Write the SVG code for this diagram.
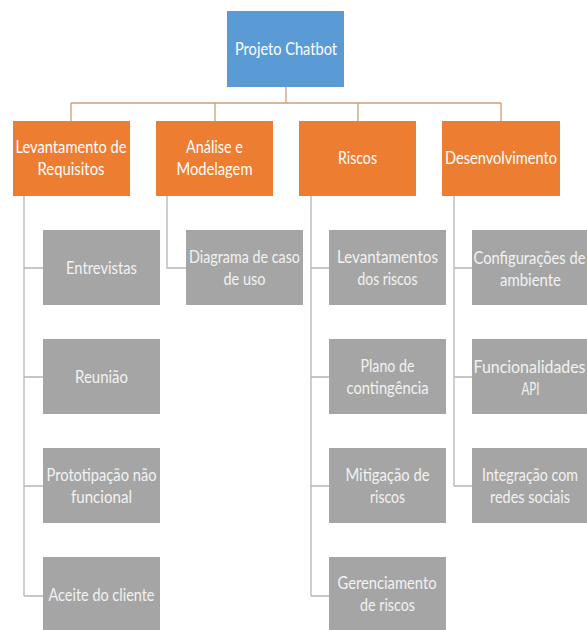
<svg xmlns="http://www.w3.org/2000/svg" width="587" height="630" viewBox="0 0 587 630">
<style>
  .bg{fill:#ffffff}
  .root{fill:#5B9BD5}
  .l1{fill:#ED7D31}
  .l2{fill:#A5A5A5}
  .t{font-family:Lato,"Liberation Sans",sans-serif;font-size:17.5px;text-anchor:middle;fill:#ffffff}
  .t2{font-family:Lato,"Liberation Sans",sans-serif;font-size:17.5px;text-anchor:middle;fill:#F2F2F2}
  .ctop{fill:none;stroke:#CF9E74;stroke-width:1.3}
  .clow{fill:none;stroke:#B5B5B5;stroke-width:1.3}
</style>
<rect class="bg" x="0" y="0" width="587" height="630"/>
<g id="connectors">
  <path class="ctop" d="M286 87 V103 M71 103 H501 M71 103 V121 M215 103 V121 M358 103 V121 M501 103 V121"/>
  <path class="clow" d="M24 196 V596 M24 268 H43 M24 377 H43 M24 486 H43 M24 596 H43"/>
  <path class="clow" d="M167 196 V268 H186"/>
  <path class="clow" d="M311 196 V596 M311 268 H329 M311 377 H329 M311 486 H329 M311 596 H329"/>
  <path class="clow" d="M454 196 V486 M454 268 H472 M454 377 H472 M454 486 H472"/>
</g>
<g id="projeto-chatbot">
  <rect class="root" x="227" y="11" width="117" height="76"/>
  <text class="t" x="286" y="55" textLength="102" lengthAdjust="spacingAndGlyphs">Projeto Chatbot</text>
</g>
<g id="levantamento-requisitos">
  <rect class="l1" x="13" y="121" width="117" height="75"/>
  <text class="t" x="71" y="153" textLength="111" lengthAdjust="spacingAndGlyphs">Levantamento de</text>
  <text class="t" x="71" y="175" textLength="67" lengthAdjust="spacingAndGlyphs">Requisitos</text>
</g>
<g id="analise-modelagem">
  <rect class="l1" x="156" y="121" width="117" height="75"/>
  <text class="t" x="214.5" y="153" textLength="57" lengthAdjust="spacingAndGlyphs">Análise e</text>
  <text class="t" x="214.5" y="175" textLength="76" lengthAdjust="spacingAndGlyphs">Modelagem</text>
</g>
<g id="riscos">
  <rect class="l1" x="299" y="121" width="117" height="75"/>
  <text class="t" x="357.5" y="164" textLength="39" lengthAdjust="spacingAndGlyphs">Riscos</text>
</g>
<g id="desenvolvimento">
  <rect class="l1" x="442" y="121" width="118" height="75"/>
  <text class="t" x="501" y="164" textLength="112" lengthAdjust="spacingAndGlyphs">Desenvolvimento</text>
</g>
<g id="entrevistas">
  <rect class="l2" x="43" y="230" width="117" height="75"/>
  <text class="t2" x="101.5" y="274" textLength="71" lengthAdjust="spacingAndGlyphs">Entrevistas</text>
</g>
<g id="reuniao">
  <rect class="l2" x="43" y="339" width="117" height="75"/>
  <text class="t2" x="101.5" y="383" textLength="53" lengthAdjust="spacingAndGlyphs">Reunião</text>
</g>
<g id="prototipacao">
  <rect class="l2" x="43" y="448" width="117" height="75"/>
  <text class="t2" x="101.5" y="481" textLength="110" lengthAdjust="spacingAndGlyphs">Prototipação não</text>
  <text class="t2" x="101.5" y="503" textLength="61" lengthAdjust="spacingAndGlyphs">funcional</text>
</g>
<g id="aceite-cliente">
  <rect class="l2" x="43" y="557" width="117" height="76"/>
  <text class="t2" x="101.5" y="601" textLength="106" lengthAdjust="spacingAndGlyphs">Aceite do cliente</text>
</g>
<g id="diagrama-caso-uso">
  <rect class="l2" x="186" y="230" width="117" height="75"/>
  <text class="t2" x="244.5" y="263" textLength="111" lengthAdjust="spacingAndGlyphs">Diagrama de caso</text>
  <text class="t2" x="244.5" y="285" textLength="42" lengthAdjust="spacingAndGlyphs">de uso</text>
</g>
<g id="levantamentos-riscos">
  <rect class="l2" x="329" y="230" width="117" height="75"/>
  <text class="t2" x="387.5" y="263" textLength="101" lengthAdjust="spacingAndGlyphs">Levantamentos</text>
  <text class="t2" x="387.5" y="285" textLength="60" lengthAdjust="spacingAndGlyphs">dos riscos</text>
</g>
<g id="plano-contingencia">
  <rect class="l2" x="329" y="339" width="117" height="75"/>
  <text class="t2" x="387.5" y="372" textLength="54" lengthAdjust="spacingAndGlyphs">Plano de</text>
  <text class="t2" x="387.5" y="394" textLength="82" lengthAdjust="spacingAndGlyphs">contingência</text>
</g>
<g id="mitigacao-riscos">
  <rect class="l2" x="329" y="448" width="117" height="75"/>
  <text class="t2" x="387.5" y="481" textLength="84" lengthAdjust="spacingAndGlyphs">Mitigação de</text>
  <text class="t2" x="387.5" y="503" textLength="35" lengthAdjust="spacingAndGlyphs">riscos</text>
</g>
<g id="gerenciamento-riscos">
  <rect class="l2" x="329" y="557" width="117" height="76"/>
  <text class="t2" x="387" y="589" textLength="99" lengthAdjust="spacingAndGlyphs">Gerenciamento</text>
  <text class="t2" x="387.5" y="611" textLength="55" lengthAdjust="spacingAndGlyphs">de riscos</text>
</g>
<g id="configuracoes-ambiente">
  <rect class="l2" x="472" y="230" width="115" height="75"/>
  <text class="t2" x="529.5" y="264" textLength="112" lengthAdjust="spacingAndGlyphs">Configurações de</text>
  <text class="t2" x="530.5" y="286" textLength="61" lengthAdjust="spacingAndGlyphs">ambiente</text>
</g>
<g id="funcionalidades-api">
  <rect class="l2" x="472" y="339" width="115" height="75"/>
  <text class="t2" x="529.5" y="373" textLength="112" lengthAdjust="spacingAndGlyphs">Funcionalidades</text>
  <text class="t2" x="530.5" y="395" textLength="18" lengthAdjust="spacingAndGlyphs">API</text>
</g>
<g id="integracao-redes">
  <rect class="l2" x="472" y="448" width="115" height="75"/>
  <text class="t2" x="530" y="481" textLength="96" lengthAdjust="spacingAndGlyphs">Integração com</text>
  <text class="t2" x="530" y="503" textLength="80" lengthAdjust="spacingAndGlyphs">redes sociais</text>
</g>
</svg>
